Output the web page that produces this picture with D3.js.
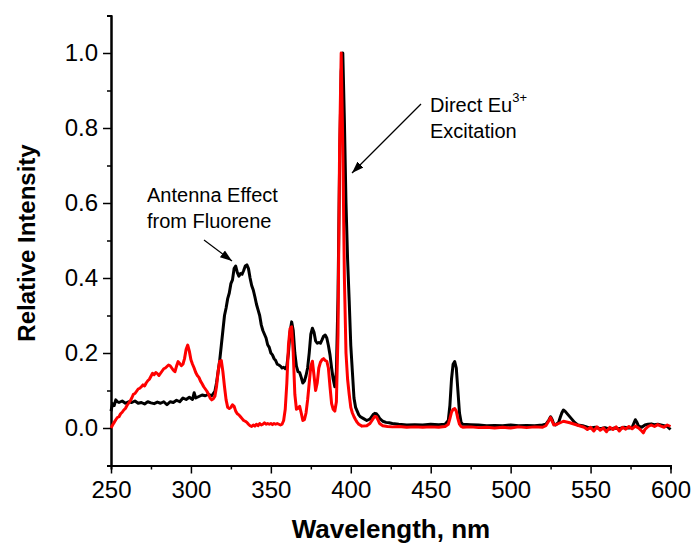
<!DOCTYPE html>
<html>
<head>
<meta charset="utf-8">
<script src="https://cdn.jsdelivr.net/npm/d3@7"></script>
<style>
  html, body { margin: 0; padding: 0; background: #fff; }
  svg { display: block; font-family: "Liberation Sans", Arial, sans-serif; }
</style>
</head>
<body>
<svg id="chart" width="693" height="546"></svg>
<script>
// Excitation spectra: sensitised (black) and reference (red), normalised at 394 nm
const blackWl = [250,251,252,253,254,255,257,259,261,263,265,267,269,271,273,275,277,279,281,283,285,287,289,291,293,295,297,299,301,302,303,305,307,309,311,313,315,316,317,318,319,320,321,322,323,324,325,326,327,328,329,330,331,332,333,334,335,336,337,338,339,340,341,342,343,344,345,346,347,348,349,350,351,352,353,354,355,356,357,358,359,360,361,362,363,364,365,366,367,368,369,370,371,372,373,374,375,376,377,378,379,380,381,382,383,384,385,386,387,388,389,390,391,392,393,394,395,396,397,398,399,400,401,402,403,404,405,406,408,410,411,412,413,414,415,416,417,418,419,420,422,424,426,430,435,440,445,450,455,459,461,462,463,464,465,466,467,468,469,470,475,480,485,490,495,500,505,510,515,520,522,524,525,526,527,528,530,531,532,533,534,536,538,540,542,545,548,550,553,556,559,562,565,568,571,574,576,577,578,579,580,582,584,586,588,590,592,594,596,598,600];
const blackVal = [0.045,0.065,0.060,0.075,0.070,0.068,0.072,0.066,0.070,0.068,0.072,0.066,0.068,0.064,0.070,0.067,0.065,0.069,0.066,0.070,0.062,0.070,0.068,0.074,0.070,0.080,0.076,0.082,0.076,0.094,0.080,0.084,0.088,0.086,0.090,0.086,0.098,0.120,0.150,0.180,0.220,0.260,0.300,0.320,0.345,0.360,0.385,0.395,0.425,0.432,0.415,0.405,0.412,0.410,0.420,0.432,0.435,0.425,0.400,0.380,0.368,0.350,0.330,0.315,0.300,0.275,0.260,0.250,0.240,0.222,0.215,0.200,0.195,0.185,0.180,0.170,0.168,0.165,0.160,0.162,0.158,0.165,0.200,0.255,0.283,0.260,0.200,0.165,0.150,0.148,0.135,0.120,0.125,0.140,0.160,0.200,0.250,0.266,0.255,0.232,0.226,0.228,0.226,0.235,0.245,0.248,0.240,0.220,0.195,0.160,0.130,0.110,0.150,0.350,0.700,0.950,1.000,0.820,0.600,0.450,0.340,0.220,0.150,0.080,0.055,0.045,0.035,0.030,0.025,0.020,0.022,0.024,0.030,0.036,0.039,0.038,0.033,0.026,0.022,0.018,0.015,0.014,0.012,0.010,0.008,0.009,0.008,0.010,0.009,0.010,0.020,0.060,0.130,0.170,0.177,0.160,0.100,0.040,0.015,0.010,0.009,0.008,0.006,0.007,0.006,0.008,0.006,0.007,0.006,0.008,0.010,0.022,0.030,0.022,0.010,0.008,0.015,0.028,0.040,0.048,0.045,0.035,0.025,0.015,0.008,0.006,0.002,0.000,0.002,-0.002,0.001,-0.003,0.000,-0.002,0.002,0.000,0.002,0.012,0.022,0.015,0.005,0.002,0.008,0.010,0.011,0.009,0.010,0.008,0.006,0.004,-0.004];

const redWl = [250,251,252,253,254,255,256,257,258,259,260,261,262,263,264,265,266,267,268,269,270,271,272,273,274,275,276,277,278,279,280,281,282,283,284,285,286,287,288,289,290,291,292,293,294,295,296,297,298,299,300,301,302,303,304,305,306,307,308,309,310,311,312,313,314,315,316,317,318,319,320,321,322,323,324,325,326,327,328,329,330,331,332,333,334,335,336,337,338,339,340,341,342,343,344,345,346,347,348,349,350,351,352,353,354,355,356,357,358,359,360,361,362,363,364,365,366,367,368,369,370,371,372,373,374,375,376,377,378,379,380,381,382,383,384,385,386,387,388,389,390,391,392,393,394,395,396,397,398,399,400,401,402,403,404,405,407,410,412,414,415,416,417,418,420,423,426,430,435,440,445,450,455,459,461,462,463,464,465,466,467,468,469,470,475,480,485,490,495,500,505,510,515,520,522,524,525,526,527,529,531,533,535,537,540,543,546,548,550,552,554,556,558,560,562,564,566,568,570,572,574,576,578,580,582,583,584,586,588,590,592,594,596,598,600];
const redVal = [0.000,0.008,0.015,0.022,0.028,0.030,0.038,0.042,0.048,0.052,0.060,0.066,0.072,0.080,0.090,0.092,0.098,0.104,0.106,0.110,0.115,0.112,0.120,0.126,0.130,0.138,0.146,0.142,0.148,0.145,0.140,0.146,0.152,0.158,0.160,0.164,0.168,0.166,0.160,0.154,0.150,0.165,0.177,0.172,0.166,0.170,0.185,0.210,0.221,0.205,0.182,0.170,0.160,0.148,0.140,0.135,0.125,0.118,0.110,0.104,0.098,0.090,0.080,0.075,0.078,0.085,0.110,0.150,0.178,0.180,0.150,0.110,0.075,0.055,0.052,0.055,0.062,0.058,0.045,0.038,0.035,0.030,0.025,0.020,0.018,0.015,0.010,0.006,0.004,0.008,0.005,0.010,0.006,0.012,0.008,0.010,0.014,0.010,0.012,0.010,0.012,0.009,0.012,0.010,0.012,0.010,0.008,0.010,0.020,0.050,0.120,0.220,0.265,0.270,0.200,0.090,0.050,0.052,0.058,0.040,0.020,0.022,0.040,0.075,0.120,0.165,0.178,0.140,0.100,0.120,0.160,0.175,0.182,0.185,0.180,0.178,0.160,0.110,0.065,0.050,0.045,0.070,0.250,0.750,1.000,0.750,0.400,0.200,0.130,0.090,0.055,0.040,0.030,0.022,0.015,0.010,0.005,0.006,0.012,0.025,0.031,0.030,0.022,0.012,0.006,0.004,0.003,0.004,0.002,0.003,0.002,0.003,0.002,0.004,0.010,0.025,0.042,0.050,0.052,0.045,0.025,0.010,0.004,0.002,0.003,0.001,0.002,0.000,0.002,0.000,0.003,0.001,0.003,0.002,0.006,0.020,0.028,0.018,0.008,0.010,0.014,0.018,0.016,0.014,0.010,0.006,0.002,-0.004,0.002,-0.008,0.003,-0.006,0.000,-0.010,0.002,-0.004,0.003,-0.008,0.002,-0.003,0.004,-0.002,0.005,0.000,-0.008,-0.013,-0.004,0.004,0.008,0.004,0.009,0.005,0.002,0.008,0.004];

const xMajorTicks = [250,300,350,400,450,500,550,600];
const xMinorTicks = [275,325,375,425,475,525,575];
const yMajorTicks = [0.0,0.2,0.4,0.6,0.8,1.0];
const yMinorTicks = [-0.1,0.1,0.3,0.5,0.7,0.9,1.1];

const svg = d3.select("#chart");
const x = d3.scaleLinear().domain([250, 600]).range([111, 670.5]);
const y = d3.scaleLinear().domain([-0.1, 1.1]).range([465.5, 15.5]);

// Axes: major ticks labelled, minor ticks shorter, both pointing outward
function styleAxis(g) {
  g.selectAll("path.domain").attr("stroke", "#000").attr("stroke-width", 2);
  g.selectAll(".tick line").attr("stroke", "#000").attr("stroke-width", 1.5);
  g.selectAll(".tick text").attr("fill", "#000").attr("font-size", 24)
    .attr("font-family", "Liberation Sans, Arial, sans-serif");
}

svg.append("g").attr("transform", "translate(0,465.5)")
  .call(d3.axisBottom(x).tickValues(xMinorTicks).tickSize(4).tickFormat(""))
  .call(styleAxis);
svg.append("g").attr("transform", "translate(0,465.5)")
  .call(d3.axisBottom(x).tickValues(xMajorTicks).tickSize(8).tickSizeOuter(0).tickPadding(7).tickFormat(d3.format("d")))
  .call(styleAxis);

svg.append("g").attr("transform", "translate(111,0)")
  .call(d3.axisLeft(y).tickValues(yMinorTicks).tickSize(4).tickFormat(""))
  .call(styleAxis);
svg.append("g").attr("transform", "translate(111,0)")
  .call(d3.axisLeft(y).tickValues(yMajorTicks).tickSize(8).tickSizeOuter(0).tickPadding(5).tickFormat(d3.format(".1f")))
  .call(styleAxis);

// Spectra
const line = d3.line().x(d => x(d[0])).y(d => y(d[1]));
const blackData = blackWl.map((w, i) => [w, blackVal[i]]);
const redData = redWl.map((w, i) => [w, redVal[i]]);

svg.append("path").datum(blackData).attr("d", line)
  .attr("fill", "none").attr("stroke", "#000").attr("stroke-width", 3)
  .attr("stroke-linejoin", "round");
svg.append("path").datum(redData).attr("d", line)
  .attr("fill", "none").attr("stroke", "#ff0000").attr("stroke-width", 3)
  .attr("stroke-linejoin", "round");

// Axis titles
svg.append("text").attr("x", 391).attr("y", 538).attr("text-anchor", "middle")
  .attr("font-size", 26).attr("font-weight", "bold").text("Wavelength, nm");
svg.append("text").attr("transform", "translate(35,243) rotate(-90)").attr("text-anchor", "middle")
  .attr("font-size", 24).attr("font-weight", "bold").text("Relative Intensity");

// Annotations with arrows
const defs = svg.append("defs");
defs.append("marker").attr("id", "arrowhead").attr("viewBox", "0 0 10 10")
  .attr("refX", 10).attr("refY", 5).attr("markerWidth", 12).attr("markerHeight", 12)
  .attr("markerUnits", "userSpaceOnUse").attr("orient", "auto")
  .append("path").attr("d", "M0,1.5 L10,5 L0,8.5 Z").attr("fill", "#000");

svg.append("line").attr("x1", 204).attr("y1", 240).attr("x2", 232).attr("y2", 261)
  .attr("stroke", "#000").attr("stroke-width", 1.2).attr("marker-end", "url(#arrowhead)");
svg.append("line").attr("x1", 421).attr("y1", 104).attr("x2", 352).attr("y2", 173)
  .attr("stroke", "#000").attr("stroke-width", 1.2).attr("marker-end", "url(#arrowhead)");

const ann = svg.append("g").attr("font-size", 20).attr("fill", "#000");
ann.append("text").attr("x", 147).attr("y", 202).text("Antenna Effect");
ann.append("text").attr("x", 147).attr("y", 228).text("from Fluorene");
const t1 = ann.append("text").attr("x", 430).attr("y", 112);
t1.append("tspan").text("Direct Eu");
t1.append("tspan").attr("font-size", 13).attr("dy", -10).text("3+");
ann.append("text").attr("x", 430).attr("y", 138).text("Excitation");
</script>
</body>
</html>
